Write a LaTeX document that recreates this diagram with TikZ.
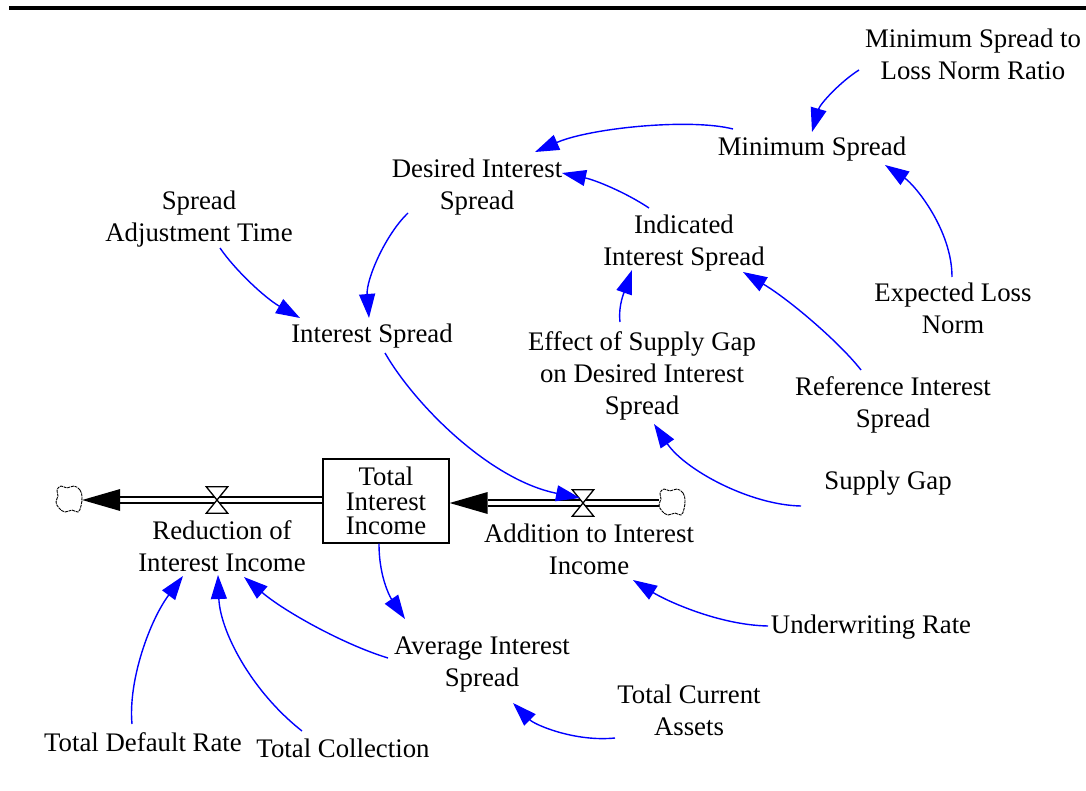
\documentclass[tikz,border=0pt]{standalone}
\usepackage{fontspec}
\setmainfont{Liberation Serif}
\usetikzlibrary{arrows.meta}
\begin{document}
\begin{tikzpicture}[x=1pt,y=-1pt,
  var/.style={align=center,inner sep=2pt,font=\fontsize{26.8}{32}\selectfont},
  stock/.style={draw,line width=1.3pt,minimum width=126pt,minimum height=84pt,inner sep=0pt,align=center,font=\fontsize{26.8}{24.5}\selectfont},
  link/.style={draw=blue,line width=1.4pt,-{Triangle[length=24pt,width=16pt,fill=blue]}},
  pipe/.style={draw=black,double=white,double distance=4.5pt,line width=1.4pt},
  flowhead/.style={fill=black},
  valvebox/.style={minimum width=21pt,minimum height=26pt,inner sep=0pt},
  valveline/.style={draw=black,fill=white,line width=1.3pt,line join=miter},
  srcbox/.style={minimum width=26pt,minimum height=27pt,inner sep=0pt},
  cloudline/.style={draw=black,fill=white,line width=0.9pt,dash pattern=on 3pt off 0.8pt}
]
\useasboundingbox (0,0) rectangle (1086,791);

% heading rule
\draw[line width=4.5pt] (9,8) -- (1086,8);

% auxiliary variables
\node[var] (ratio) at (973,54)  {Minimum Spread to\\Loss Norm Ratio};
\node[var] (ms)    at (812,149) {Minimum Spread};
\node[var] (ds)    at (477,187) {Desired Interest\\Spread};
\node[var] (ind)   at (684,243) {Indicated\\Interest Spread};
\node[var] (sat)   at (199,219) {Spread\\Adjustment Time};
\node[var] (is)    at (372,336) {Interest Spread};
\node[var] (eln)   at (953,308) {Expected Loss\\Norm};
\node[var] (eff)   at (642,376) {Effect of Supply Gap\\on Desired Interest\\Spread};
\node[var] (ris)   at (893,405) {Reference Interest\\Spread};
\node[var] (sg)    at (888,483) {Supply Gap};
\node[var] (red)   at (222,546) {Reduction of\\Interest Income};
\node[var] (add)   at (589,549) {Addition to Interest\\Income};
\node[var] (ur)    at (871,627) {Underwriting Rate};
\node[var] (ais)   at (482,665) {Average Interest\\Spread};
\node[var] (tca)   at (689,710) {Total Current\\Assets};
\node[var] (tdr)   at (143,742) {Total Default Rate};
\node[var] (tc)    at (343,748) {Total Collection};

% stock, clouds and valves
\node[stock] (tii) at (386,501) {Total\\Interest\\Income};
\node[srcbox] (cL) at (69,499) {};
\node[srcbox] (cR) at (672,502) {};
\node[valvebox] (vL) at (217,500) {};
\node[valvebox] (vR) at (583,503) {};

% outflow pipe
\draw[pipe] (tii.west |- vL) -- ([xshift=38pt]cL.east |- vL);
\fill[flowhead] (cL.east |- vL) -- ++(38,-11) -- ++(0,22) -- cycle;
% inflow pipe
\coordinate (inR) at (tii.east |- vR);
\draw[pipe] (cR.west |- vR) -- ([xshift=38pt]inR);
\fill[flowhead] (inR) -- ++(38,-11) -- ++(0,22) -- cycle;
% valves
\draw[valveline] (vL.north west) -- (vL.north east) -- (vL.south west) -- (vL.south east) -- cycle;
\draw[valveline] (vR.north west) -- (vR.north east) -- (vR.south west) -- (vR.south east) -- cycle;
% sources / sinks
\foreach \c in {cL,cR}{
  \draw[cloudline,shift={(\c.center)}] plot[smooth cycle,tension=0.7] coordinates
    {(13,-2) (11,-9) (5,-13) (-2,-11) (-8,-13) (-12,-9) (-11,-3) (-13,3) (-10,9) (-4,13) (3,11) (9,13) (12,7)};
}

% causal links
\draw[link] ([shift={(-114,16)}]ratio.center) .. controls (840,82) and (820,104) .. ([shift={(0,-17)}]ms.center);
\draw[link] ([shift={(-79,-20)}]ms.center) .. controls (690,118) and (590,128) .. ([shift={(58,-35)}]ds.center);
\draw[link] ([shift={(-35,-35)}]ind.center) .. controls (625,192) and (595,180) .. ([shift={(85,-14)}]ds.center);
\draw[link] ([shift={(-1,-31)}]eln.center) .. controls (952,230) and (915,185) .. ([shift={(73,16)}]ms.center);
\draw[link] ([shift={(-69,26)}]ds.center) .. controls (385,235) and (366,280) .. ([shift={(-3,-18)}]is.center);
\draw[link] ([shift={(21,29)}]sat.center) .. controls (235,270) and (265,298) .. ([shift={(-72,-18)}]is.center);
\draw[link] ([shift={(13,17)}]is.center) .. controls (415,405) and (490,480) .. ([shift={(-3,-5)}]vR.center);
\draw[link] ([shift={(-22,-54)}]eff.center) .. controls (618,305) and (625,290) .. ([shift={(-52,27)}]ind.center);
\draw[link] ([shift={(-32,-35)}]ris.center) .. controls (840,343) and (790,300) .. ([shift={(59,29)}]ind.center);
\draw[link] ([shift={(-87,23)}]sg.center) .. controls (750,505) and (685,470) .. ([shift={(12,48)}]eff.center);
\draw[link] ([shift={(-7,0)}]tii.south) .. controls (379,580) and (392,600) .. ([shift={(-77,-46)}]ais.center);
\draw[link] ([shift={(-103,-1)}]ur.center) .. controls (718,625) and (665,600) .. ([shift={(44,31)}]add.center);
\draw[link] ([shift={(-74,28)}]tca.center) .. controls (575,742) and (535,725) .. ([shift={(31,38)}]ais.center);
\draw[link] ([shift={(-94,-7)}]ais.center) .. controls (345,645) and (285,612) .. ([shift={(22,31)}]red.center);
\draw[link] ([shift={(-41,-17)}]tc.center) .. controls (250,690) and (220,630) .. ([shift={(-4,29)}]red.center);
\draw[link] ([shift={(-11,-18)}]tdr.center) .. controls (128,680) and (150,620) .. ([shift={(-39,30)}]red.center);
\end{tikzpicture}
\end{document}
